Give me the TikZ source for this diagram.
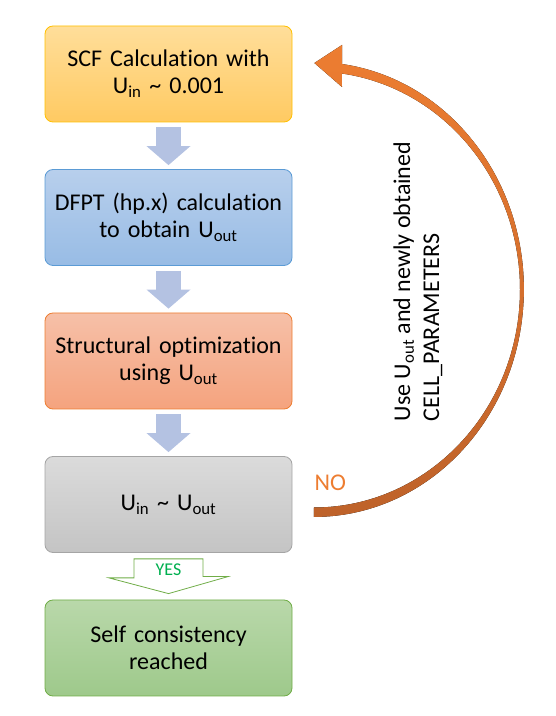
\documentclass[tikz,border=0pt]{standalone}
\usepackage{fontspec}
\setmainfont{Carlito}[Ligatures=NoCommon]
\usetikzlibrary{arrows.meta, positioning, calc}

\definecolor{scfTop}{RGB}{255,222,154}
\definecolor{scfBot}{RGB}{255,202,98}
\definecolor{scfLine}{RGB}{255,192,0}
\definecolor{hpTop}{RGB}{184,207,236}
\definecolor{hpBot}{RGB}{152,188,229}
\definecolor{hpLine}{RGB}{91,155,213}
\definecolor{optTop}{RGB}{246,192,168}
\definecolor{optBot}{RGB}{245,163,126}
\definecolor{optLine}{RGB}{237,125,49}
\definecolor{chkTop}{RGB}{219,219,219}
\definecolor{chkBot}{RGB}{196,196,196}
\definecolor{chkLine}{RGB}{165,165,165}
\definecolor{doneTop}{RGB}{185,216,170}
\definecolor{doneBot}{RGB}{158,201,139}
\definecolor{doneLine}{RGB}{112,173,71}
\definecolor{flowBlue}{RGB}{180,194,226}
\definecolor{yesGreen}{RGB}{0,176,80}
\definecolor{loopOrange}{RGB}{237,125,49}
\definecolor{loopDark}{RGB}{190,98,42}

\newcommand{\Uin}{U\textsubscript{in}}
\newcommand{\Uout}{U\textsubscript{out}}

\begin{document}
\begin{tikzpicture}[
    x=1pt, y=1pt,
    node distance=46.7pt,
    stepbox/.style={rounded corners=8pt, line width=0.8pt,
        minimum width=247pt, minimum height=96pt, text width=240pt,
        align=center, inner sep=0pt, font=\fontsize{24}{27}\selectfont},
    flow/.style={flowBlue, line width=25pt,
        -{Triangle[width=44pt, length=19pt, line width=0pt]}},
    yesarrow/.style={draw=doneLine, fill=white, line width=0.8pt},
    loop/.style={top color=loopOrange, bottom color=loopDark}
]

\useasboundingbox (0,0) rectangle (556,716);

% =========================
% STEPS
% =========================
\node[stepbox, top color=scfTop, bottom color=scfBot, draw=scfLine]
    (scf) at (168.5,642) {SCF Calculation with\\\Uin{} \textasciitilde{} 0.001};
\node[stepbox, top color=hpTop, bottom color=hpBot, draw=hpLine,
    below=of scf] (dfpt) {DFPT (hp.x) calculation\\to obtain \Uout};
\node[stepbox, top color=optTop, bottom color=optBot, draw=optLine,
    below=of dfpt] (opt) {Structural optimization\\using \Uout};
\node[stepbox, top color=chkTop, bottom color=chkBot, draw=chkLine,
    below=of opt] (chk) {\Uin{} \textasciitilde{} \Uout};
\node[stepbox, top color=doneTop, bottom color=doneBot, draw=doneLine,
    below=of chk] (done) {Self consistency\\reached};

% =========================
% DOWN ARROWS
% =========================
\foreach \a/\b in {scf/dfpt, dfpt/opt, opt/chk}
    \draw[flow] ([yshift=-5pt]\a.south) -- ([yshift=4pt]\b.north);

% YES
\draw[yesarrow] ([xshift=-34.5pt,yshift=-6pt]chk.south) -- ++(0,-19)
    -- ++(-25,0) -- ([yshift=6pt]done.north) -- ++(59.5,17) -- ++(-25,0)
    -- ([xshift=34.5pt,yshift=-6pt]chk.south) -- cycle;
\node[text=yesGreen, font=\fontsize{18}{20}\selectfont]
    (yes) at ([yshift=-17pt]chk.south) {YES};

% =========================
% NO: loop back
% =========================
\coordinate (lc) at (314,426.5);
\fill[loop]
    ($(lc)+(0,-218)$) arc[start angle=-90, end angle=82.2, x radius=206, y radius=218]
    -- (342,629) -- ([xshift=22pt,yshift=11pt]scf.east) -- (342,671) -- (342,652)
    arc[start angle=82.3, end angle=-90, x radius=210, y radius=227.5] -- cycle;

\node[anchor=west, text=loopOrange, font=\fontsize{24}{27}\selectfont]
    (nolabel) at (311,233) {NO};

\node[rotate=90, align=left, font=\fontsize{24}{29}\selectfont]
    (loopnote) at (418,434.5) {Use \Uout{} and newly obtained\\CELL\_PARAMETERS};
\end{tikzpicture}
\end{document}
